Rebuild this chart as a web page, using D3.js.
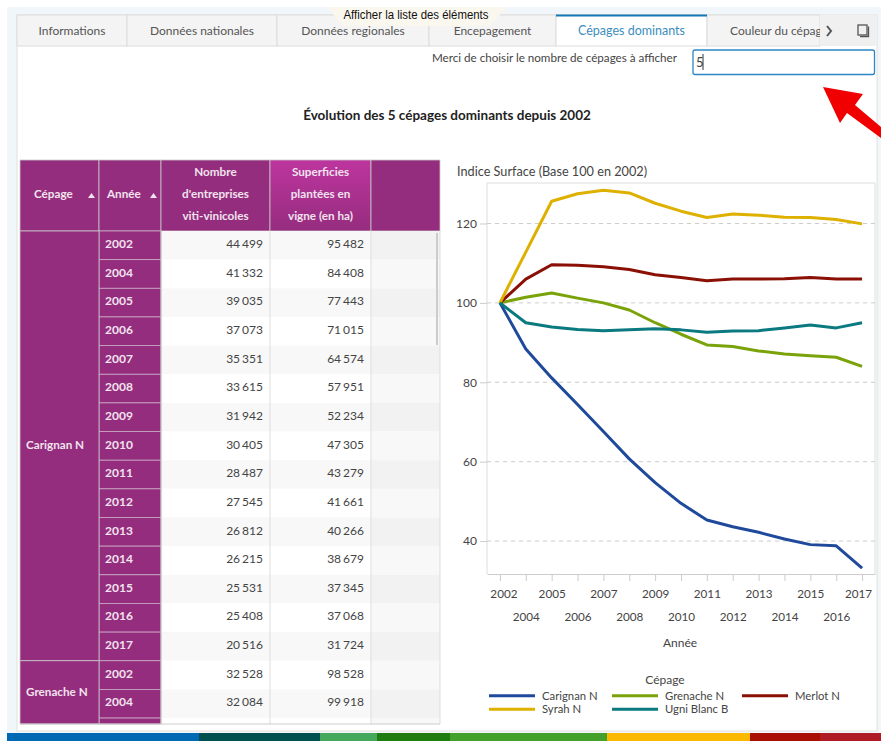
<!DOCTYPE html>
<html>
<head>
<meta charset="utf-8">
<script src="https://cdn.jsdelivr.net/npm/d3@7"></script>
<style>
  html, body { margin: 0; padding: 0; background: #fff; }
  svg { display: block; font-family: Lato, sans-serif; }
</style>
</head>
<body>
<div id="chart"></div>
<script>
const tabs = ["Informations", "Données nationales", "Données regionales", "Encepagement", "Cépages dominants", "Couleur du cépage"]
const tabEdges = [17, 127, 277, 429, 556, 707, 820]
const activeTab = 4

const headers = [
  {lines: ["Cépage"], sort: true},
  {lines: ["Année"], sort: true},
  {lines: ["Nombre", "d'entreprises", "viti-vinicoles"]},
  {lines: ["Superficies", "plantées en", "vigne (en ha)"], active: true},
  {lines: []}
]
const colEdges = [20, 99, 161, 270, 371, 440]

const years = [2002, 2004, 2005, 2006, 2007, 2008, 2009, 2010, 2011, 2012, 2013, 2014, 2015, 2016, 2017]
const carignanEntreprises = ["44 499", "41 332", "39 035", "37 073", "35 351", "33 615", "31 942", "30 405", "28 487", "27 545", "26 812", "26 215", "25 531", "25 408", "20 516"]
const carignanSurfaces = ["95 482", "84 408", "77 443", "71 015", "64 574", "57 951", "52 234", "47 305", "43 279", "41 661", "40 266", "38 679", "37 345", "37 068", "31 724"]
const grenacheYears = [2002, 2004]
const grenacheEntreprises = ["32 528", "32 084"]
const grenacheSurfaces = ["98 528", "99 918"]

const carignan = [100, 88.4, 81.1, 74.4, 67.6, 60.7, 54.7, 49.5, 45.3, 43.6, 42.2, 40.5, 39.1, 38.8, 33.2]
const grenache = [100, 101.4, 102.5, 101.2, 100, 98.2, 95, 92.1, 89.4, 89, 87.9, 87.1, 86.7, 86.3, 84]
const merlot = [100, 106, 109.6, 109.5, 109.1, 108.4, 107.1, 106.4, 105.6, 106, 106, 106.1, 106.4, 106, 106]
const syrah = [100, 112.8, 125.6, 127.5, 128.4, 127.7, 125.1, 123.1, 121.5, 122.4, 122.1, 121.6, 121.5, 121, 119.9]
const ugni = [100, 95, 93.9, 93.3, 93, 93.2, 93.5, 93.2, 92.6, 92.9, 93, 93.7, 94.4, 93.7, 95]

const seriesNames = ["Carignan N", "Grenache N", "Merlot N", "Syrah N", "Ugni Blanc B"]
const seriesValues = [carignan, grenache, merlot, syrah, ugni]
const seriesColors = ["#1f4a9c", "#7aa30a", "#8a1005", "#deb000", "#0a7a80"]
const yTicks = [40, 60, 80, 100, 120]

const stripeEdges = [7, 199, 320, 377, 450, 607, 750, 820, 881]
const stripeColors = ["#0069b4", "#00504f", "#45a85c", "#1f7c10", "#43a02a", "#fbb900", "#aa1000", "#b01a25"]

const width = 881, height = 741
const purple = "#952d7e"
const textGrey = "#444"

const svg = d3.select("#chart").append("svg")
  .attr("width", width)
  .attr("height", height)

const defs = svg.append("defs")

// page frame
svg.append("rect").attr("x", 7).attr("y", 7).attr("width", 874).attr("height", 726).attr("fill", "#f1f6fb")
svg.append("rect").attr("x", 17).attr("y", 15).attr("width", 860).attr("height", 716)
  .attr("fill", "#fff").attr("stroke", "#e4e0da")

// tabs
defs.append("clipPath").attr("id", "tabClip")
  .append("rect").attr("x", 17).attr("y", 15).attr("width", 803).attr("height", 31)

const tabG = svg.append("g")
tabG.append("rect").attr("x", 17).attr("y", 15).attr("width", 860).attr("height", 31).attr("fill", "#f4f4f4")
tabG.selectAll("rect.tab")
  .data(tabs)
  .join("rect")
    .attr("class", "tab")
    .attr("x", (d, i) => tabEdges[i])
    .attr("y", 15)
    .attr("width", (d, i) => tabEdges[i + 1] - tabEdges[i])
    .attr("height", 31)
    .attr("fill", (d, i) => i == activeTab ? "#fff" : "#f4f4f4")
    .attr("stroke", "#dcdcdc")
tabG.append("rect").attr("x", tabEdges[activeTab]).attr("y", 14.5).attr("width", tabEdges[activeTab + 1] - tabEdges[activeTab]).attr("height", 2).attr("fill", "#1478b4")
tabG.selectAll("text")
  .data(tabs)
  .join("text")
    .attr("x", (d, i) => i == 5 ? 730 : (tabEdges[i] + tabEdges[i + 1]) / 2)
    .attr("y", 34.5)
    .attr("text-anchor", (d, i) => i == 5 ? "start" : "middle")
    .attr("font-size", (d, i) => i == activeTab ? 12.5 : 12)
    .attr("fill", (d, i) => i == activeTab ? "#3c8dbc" : "#555")
    .attr("clip-path", "url(#tabClip)")
    .text(d => d)
tabG.append("rect").attr("x", 820).attr("y", 15).attr("width", 57).attr("height", 31).attr("fill", "#f0f0f0")
tabG.append("path").attr("d", "M827,26 l4,5 l-4,5").attr("fill", "none").attr("stroke", "#555").attr("stroke-width", 2)
tabG.append("rect").attr("x", 858).attr("y", 25).attr("width", 9).attr("height", 10).attr("fill", "none").attr("stroke", "#555").attr("stroke-width", 1.3)
tabG.append("path").attr("d", "M860,36.5 h8.5 v-10").attr("fill", "none").attr("stroke", "#555").attr("stroke-width", 1.3)

// tooltip over the tabs
svg.append("path")
  .attr("d", "M327,7 H507 L490,26 H343 Z")
  .attr("fill", "#faf7ee")
svg.append("text")
  .attr("x", 416).attr("y", 19)
  .attr("text-anchor", "middle")
  .attr("font-family", "'Liberation Sans', sans-serif")
  .attr("font-size", 12)
  .attr("textLength", 145)
  .attr("lengthAdjust", "spacingAndGlyphs")
  .attr("fill", "#111")
  .text("Afficher la liste des éléments")

// input
svg.append("text")
  .attr("x", 677).attr("y", 62)
  .attr("text-anchor", "end")
  .attr("font-size", 11.65)
  .attr("fill", "#444")
  .text("Merci de choisir le nombre de cépages à afficher")
svg.append("rect")
  .attr("x", 693).attr("y", 50).attr("width", 181.5).attr("height", 24.5).attr("rx", 2)
  .attr("fill", "#fff").attr("stroke", "#2b86c5").attr("stroke-width", 1.3)
svg.append("text").attr("x", 696).attr("y", 66.5).attr("font-size", 13).attr("fill", "#444").text("5")
svg.append("line").attr("x1", 703).attr("x2", 703).attr("y1", 54).attr("y2", 70).attr("stroke", "#333")

svg.append("text")
  .attr("x", 447).attr("y", 120)
  .attr("text-anchor", "middle")
  .attr("font-size", 13.5)
  .attr("font-weight", 700)
  .attr("fill", "#222")
  .text("Évolution des 5 cépages dominants depuis 2002")

// red arrow
svg.append("path")
  .attr("d", "M823,87 L863,94 L855,105 L881,127 L881,138 L847,113 L840,123 Z")
  .attr("fill", "#f00000")

// table
const tableTop = 160, headTop = 231, rowH = 28.65, tableBottom = 724
const table = svg.append("g")

const gradient = defs.append("linearGradient")
  .attr("id", "activeHead").attr("x1", 0).attr("x2", 0).attr("y1", 0).attr("y2", 1)
gradient.append("stop").attr("offset", 0).attr("stop-color", "#bd359f")
gradient.append("stop").attr("offset", 1).attr("stop-color", purple)

table.selectAll("rect.head")
  .data(headers)
  .join("rect")
    .attr("class", "head")
    .attr("x", (d, i) => colEdges[i])
    .attr("y", tableTop)
    .attr("width", (d, i) => colEdges[i + 1] - colEdges[i])
    .attr("height", headTop - tableTop)
    .attr("fill", d => d.active ? "url(#activeHead)" : purple)
    .attr("stroke", "#c9c9c9")
    .attr("stroke-width", 0.8)

headers.forEach((h, i) => {
  const cx = (colEdges[i] + colEdges[i + 1]) / 2
  const top = tableTop + 34 - (h.lines.length - 1) * 11
  table.selectAll(null)
    .data(h.lines)
    .join("text")
      .attr("x", h.sort ? colEdges[i] + 8 + (i == 0 ? 6 : 0) : cx)
      .attr("y", (d, k) => top + k * 22 + 4)
      .attr("text-anchor", h.sort ? "start" : "middle")
      .attr("font-size", 11.7)
      .attr("font-weight", 700)
      .attr("fill", "#f1e3ee")
      .text(d => d)
  if (h.sort) {
    table.append("path")
      .attr("d", `M${colEdges[i + 1] - 11},198 l3.5,-5 l3.5,5 Z`)
      .attr("fill", "#f1e3ee")
  }
})

const rows = []
years.forEach((y, i) => rows.push({year: y, a: carignanEntreprises[i], b: carignanSurfaces[i]}))
grenacheYears.forEach((y, i) => rows.push({year: y, a: grenacheEntreprises[i], b: grenacheSurfaces[i]}))
rows.push({year: "", a: "", b: ""})

const rowTop = i => headTop + i * rowH
const rowHeight = i => Math.min(rowTop(i + 1), tableBottom) - rowTop(i)

// body background
table.selectAll("rect.band")
  .data(rows)
  .join("rect")
    .attr("class", "band")
    .attr("x", colEdges[2])
    .attr("y", (d, i) => rowTop(i))
    .attr("width", colEdges[4] - colEdges[2])
    .attr("height", (d, i) => rowHeight(i))
    .attr("fill", (d, i) => i % 2 ? "#fff" : "#f8f8f8")
table.selectAll("rect.spare")
  .data(rows)
  .join("rect")
    .attr("class", "spare")
    .attr("x", colEdges[4])
    .attr("y", (d, i) => rowTop(i))
    .attr("width", colEdges[5] - colEdges[4])
    .attr("height", (d, i) => rowHeight(i))
    .attr("fill", (d, i) => i % 2 ? "#f8f8f8" : "#f2f2f2")

// year column
table.selectAll("rect.year")
  .data(rows)
  .join("rect")
    .attr("class", "year")
    .attr("x", colEdges[1])
    .attr("y", (d, i) => rowTop(i))
    .attr("width", colEdges[2] - colEdges[1])
    .attr("height", (d, i) => rowHeight(i))
    .attr("fill", purple)
    .attr("stroke", "#c9a9c2")
    .attr("stroke-width", 0.8)
table.selectAll("text.year")
  .data(rows)
  .join("text")
    .attr("class", "year")
    .attr("x", colEdges[1] + 6)
    .attr("y", (d, i) => rowTop(i) + 17)
    .attr("font-size", 12)
    .attr("font-weight", 700)
    .attr("fill", "#f1e3ee")
    .text(d => d.year)

// value columns
table.selectAll("text.va")
  .data(rows)
  .join("text")
    .attr("class", "va")
    .attr("x", colEdges[3] - 7)
    .attr("y", (d, i) => rowTop(i) + 17)
    .attr("text-anchor", "end")
    .attr("font-size", 12)
    .attr("word-spacing", -1)
    .attr("fill", textGrey)
    .text(d => d.a)
table.selectAll("text.vb")
  .data(rows)
  .join("text")
    .attr("class", "vb")
    .attr("x", colEdges[4] - 7)
    .attr("y", (d, i) => rowTop(i) + 17)
    .attr("text-anchor", "end")
    .attr("font-size", 12)
    .attr("word-spacing", -1)
    .attr("fill", textGrey)
    .text(d => d.b)

// cepage groups
const groups = [
  {name: "Carignan N", y0: headTop, y1: rowTop(years.length)},
  {name: "Grenache N", y0: rowTop(years.length), y1: tableBottom}
]
table.selectAll("rect.group")
  .data(groups)
  .join("rect")
    .attr("class", "group")
    .attr("x", colEdges[0])
    .attr("y", d => d.y0)
    .attr("width", colEdges[1] - colEdges[0])
    .attr("height", d => d.y1 - d.y0)
    .attr("fill", purple)
    .attr("stroke", "#c9c9c9")
    .attr("stroke-width", 0.8)
const groupLabelY = [449, 696]
table.selectAll("text.group")
  .data(groups)
  .join("text")
    .attr("class", "group")
    .attr("x", colEdges[0] + 6)
    .attr("y", (d, i) => groupLabelY[i])
    .attr("font-size", 11.7)
    .attr("font-weight", 700)
    .attr("fill", "#f1e3ee")
    .text(d => d.name)

// column rules and outer border
table.selectAll("line.col")
  .data(colEdges.slice(3))
  .join("line")
    .attr("class", "col")
    .attr("x1", d => d).attr("x2", d => d)
    .attr("y1", headTop).attr("y2", tableBottom)
    .attr("stroke", "#ddd")
table.append("line")
  .attr("x1", colEdges[0]).attr("x2", colEdges[5])
  .attr("y1", tableBottom).attr("y2", tableBottom)
  .attr("stroke", "#ccc")
table.append("line")
  .attr("x1", colEdges[2]).attr("x2", colEdges[2])
  .attr("y1", headTop).attr("y2", tableBottom)
  .attr("stroke", "#ccc")
// scrollbar
table.append("rect").attr("x", 436).attr("y", 233).attr("width", 2).attr("height", 112).attr("fill", "#ccc")

// line chart
const plot = {left: 487, right: 875, top: 183, bottom: 574}
const x = d3.scalePoint().domain(years).range([plot.left, plot.right]).padding(0.5)
const y = d3.scaleLinear().domain([31.7, 130.2]).range([plot.bottom, plot.top])

const chart = svg.append("g")

chart.append("text")
  .attr("x", 457).attr("y", 176)
  .attr("font-size", 12.7)
  .attr("fill", "#444")
  .text("Indice Surface (Base 100 en 2002)")

chart.append("path")
  .attr("d", `M${plot.left},${plot.bottom} V${plot.top} H${plot.right} V${plot.bottom}`)
  .attr("fill", "none")
  .attr("stroke", "#ddd")

chart.selectAll("line.grid")
  .data(yTicks)
  .join("line")
    .attr("class", "grid")
    .attr("x1", plot.left).attr("x2", plot.right)
    .attr("y1", d => y(d)).attr("y2", d => y(d))
    .attr("stroke", "#ccc")
    .attr("stroke-dasharray", "4 4")

const axisY = chart.append("g")
  .attr("transform", `translate(${plot.left},0)`)
  .call(d3.axisLeft(y).tickValues(yTicks).tickSize(7).tickPadding(3))
axisY.select(".domain").remove()
axisY.selectAll("line").attr("stroke", "#ccc")
axisY.selectAll("text")
  .attr("font-family", "Lato, sans-serif")
  .attr("font-size", 12)
  .attr("fill", "#444")

const axisX = chart.append("g")
  .attr("transform", `translate(0,${plot.bottom})`)
  .call(d3.axisBottom(x).tickSizeInner(7).tickSizeOuter(0).tickPadding(9).tickFormat(d3.format("d")))
axisX.select(".domain").attr("stroke", "#ccc")
axisX.selectAll("line").attr("stroke", "#ccc")
axisX.selectAll("text")
  .attr("font-family", "Lato, sans-serif")
  .attr("font-size", 11.7)
  .attr("fill", "#444")
  .attr("dx", (d, i) => i == 0 ? 3.5 : i == years.length - 1 ? -4 : 0)
  .attr("dy", (d, i) => i % 2 ? "2.68em" : "0.71em")

chart.append("text")
  .attr("x", 680).attr("y", 647)
  .attr("text-anchor", "middle")
  .attr("font-size", 12)
  .attr("fill", "#444")
  .text("Année")

const line = d3.line()
  .x((d, i) => x(years[i]))
  .y(d => y(d))

chart.selectAll("path.series")
  .data(seriesValues)
  .join("path")
    .attr("class", "series")
    .attr("d", line)
    .attr("fill", "none")
    .attr("stroke", (d, i) => seriesColors[i])
    .attr("stroke-width", 3)
    .attr("stroke-linejoin", "round")

// legend
const legendX = [489, 612, 742]
const legendRows = [695.7, 709.3]
const legend = chart.append("g")
legend.append("text")
  .attr("x", 665).attr("y", 684)
  .attr("text-anchor", "middle")
  .attr("font-size", 12)
  .attr("fill", "#444")
  .text("Cépage")
legend.selectAll("line")
  .data(seriesNames)
  .join("line")
    .attr("x1", (d, i) => legendX[i % 3])
    .attr("x2", (d, i) => legendX[i % 3] + 46)
    .attr("y1", (d, i) => legendRows[Math.floor(i / 3)])
    .attr("y2", (d, i) => legendRows[Math.floor(i / 3)])
    .attr("stroke", (d, i) => seriesColors[i])
    .attr("stroke-width", 3)
legend.selectAll("text.item")
  .data(seriesNames)
  .join("text")
    .attr("class", "item")
    .attr("x", (d, i) => legendX[i % 3] + 53)
    .attr("y", (d, i) => legendRows[Math.floor(i / 3)] + 4)
    .attr("font-size", 11.3)
    .attr("fill", "#444")
    .text(d => d)

// bottom stripe
svg.selectAll("rect.stripe")
  .data(stripeColors)
  .join("rect")
    .attr("class", "stripe")
    .attr("x", (d, i) => stripeEdges[i])
    .attr("y", 733)
    .attr("width", (d, i) => stripeEdges[i + 1] - stripeEdges[i])
    .attr("height", 8)
    .attr("fill", d => d)
</script>
</body>
</html>
